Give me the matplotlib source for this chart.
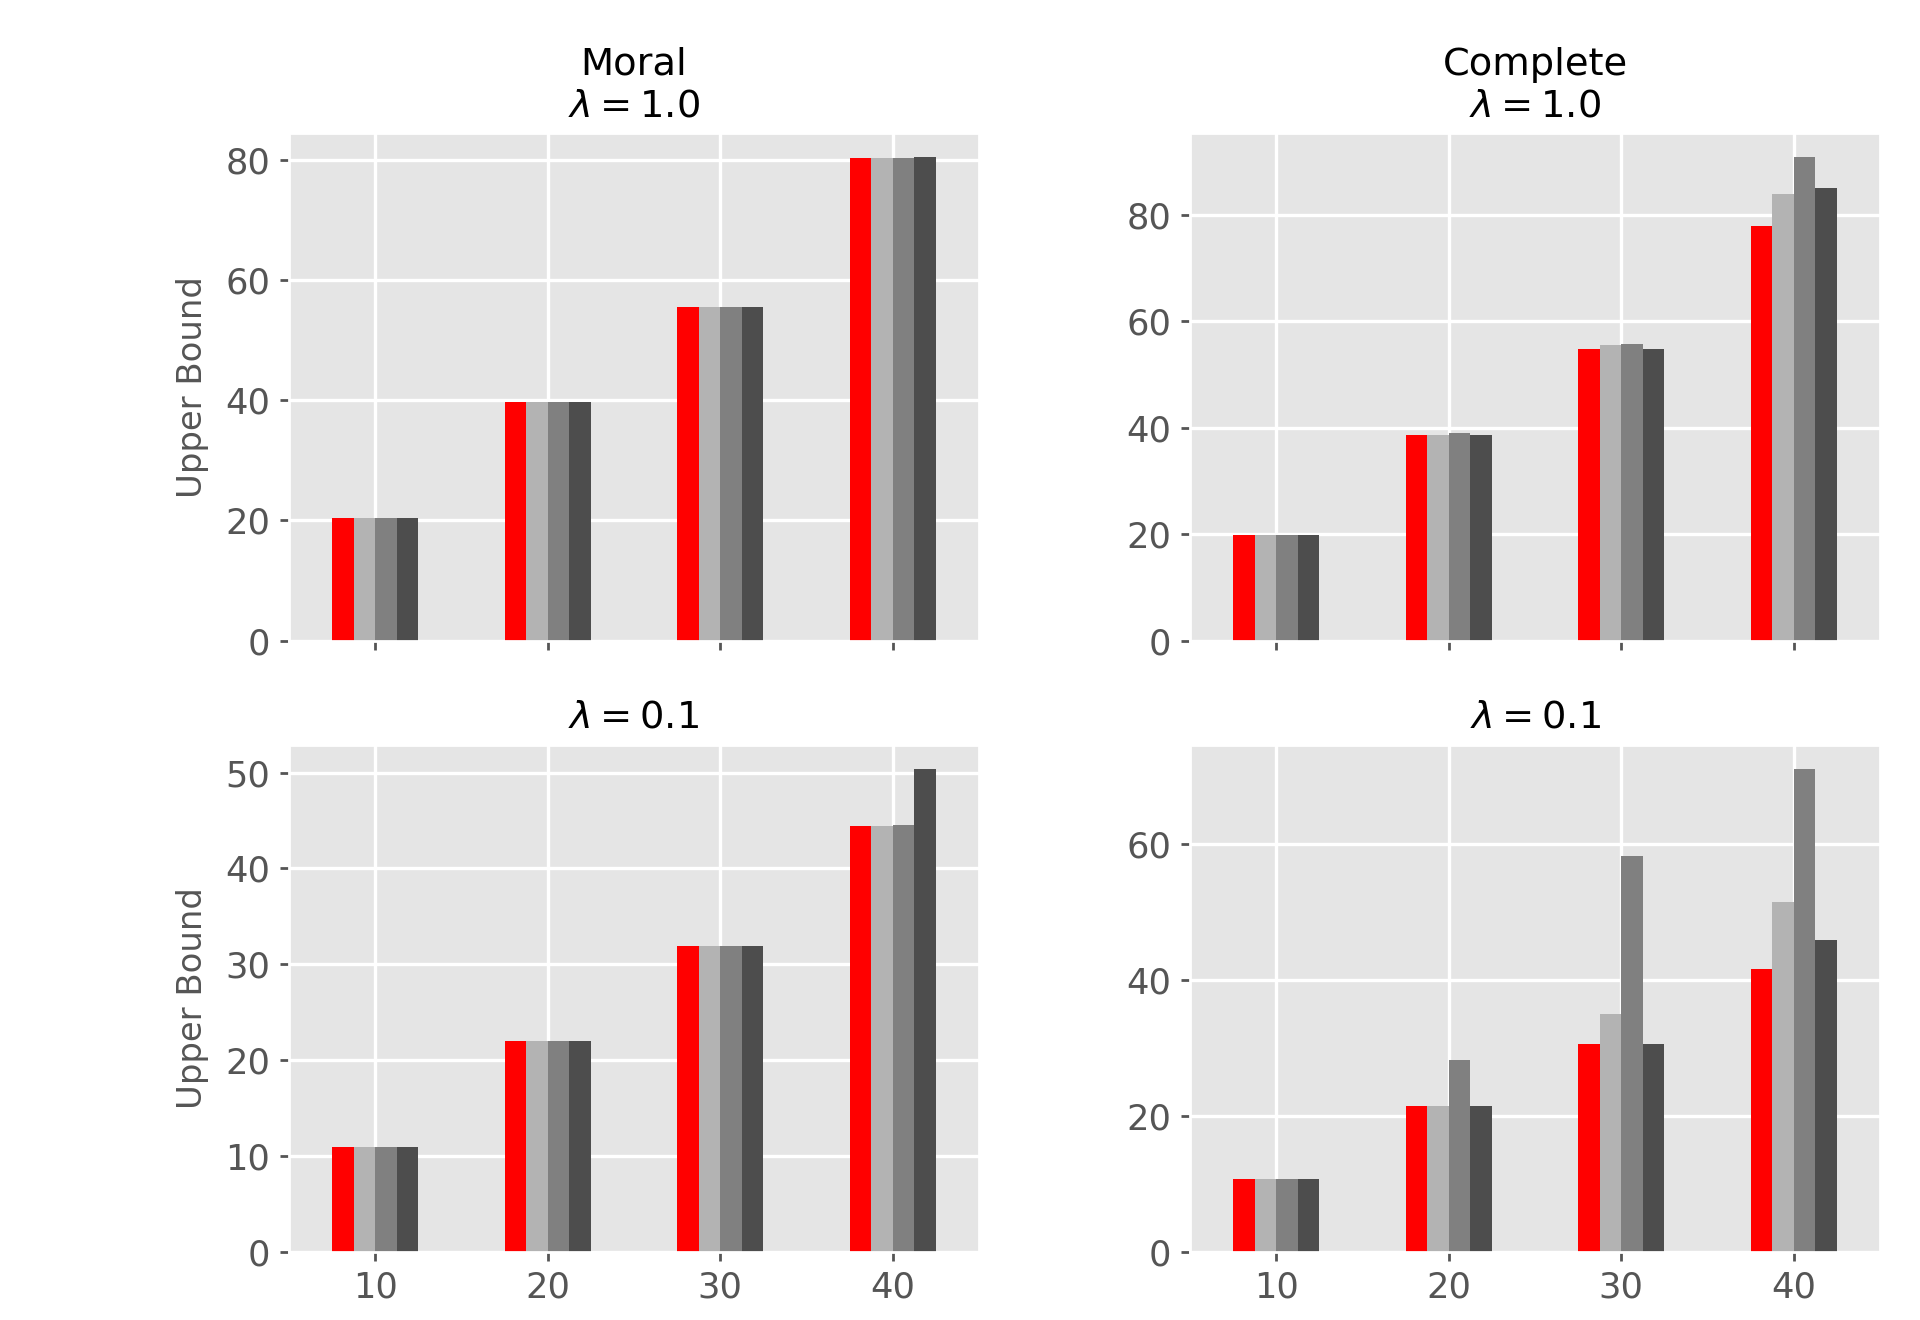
import numpy as np
import matplotlib
matplotlib.use("Agg")
import matplotlib.pyplot as plt

plt.style.use("ggplot")
plt.rcParams["font.family"] = ["DejaVu Sans"]
plt.rcParams["grid.linewidth"] = 1.2

categories = ["10", "20", "30", "40"]
series_colors = ["#ff0000", "0.7", "0.5", "0.3"]

# Moral, lambda = 1.0
moral_l10_s1 = [20.4, 39.6, 55.5, 80.2]
moral_l10_s2 = [20.4, 39.6, 55.5, 80.2]
moral_l10_s3 = [20.4, 39.6, 55.5, 80.2]
moral_l10_s4 = [20.4, 39.6, 55.5, 80.4]

# Moral, lambda = 0.1
moral_l01_s1 = [11.0, 22.0, 31.9, 44.4]
moral_l01_s2 = [11.0, 22.0, 31.9, 44.4]
moral_l01_s3 = [11.0, 22.0, 31.9, 44.5]
moral_l01_s4 = [11.0, 22.0, 31.9, 50.4]

# Complete, lambda = 1.0
complete_l10_s1 = [19.8, 38.7, 54.8, 77.9]
complete_l10_s2 = [19.8, 38.7, 55.5, 83.9]
complete_l10_s3 = [19.8, 38.9, 55.7, 90.8]
complete_l10_s4 = [19.8, 38.7, 54.8, 85.0]

# Complete, lambda = 0.1
complete_l01_s1 = [10.8, 21.4, 30.5, 41.6]
complete_l01_s2 = [10.8, 21.4, 34.9, 51.4]
complete_l01_s3 = [10.8, 28.2, 58.2, 71.0]
complete_l01_s4 = [10.8, 21.4, 30.5, 45.9]

panels = [
    (0, 0, "Moral\n$\\lambda = 1.0$", [moral_l10_s1, moral_l10_s2, moral_l10_s3, moral_l10_s4]),
    (0, 1, "Complete\n$\\lambda = 1.0$", [complete_l10_s1, complete_l10_s2, complete_l10_s3, complete_l10_s4]),
    (1, 0, "$\\lambda = 0.1$", [moral_l01_s1, moral_l01_s2, moral_l01_s3, moral_l01_s4]),
    (1, 1, "$\\lambda = 0.1$", [complete_l01_s1, complete_l01_s2, complete_l01_s3, complete_l01_s4]),
]

fig, axes = plt.subplots(2, 2, figsize=(9.6, 6.6), dpi=200)
fig.subplots_adjust(left=0.1505, right=0.9792, top=0.8992, bottom=0.0515,
                    wspace=0.306, hspace=0.205)

n_series = 4
bar_w = 0.5 / n_series
x = np.arange(len(categories))

for r, c, title, series in panels:
    ax = axes[r, c]
    for i, vals in enumerate(series):
        offs = -0.25 + bar_w * (i + 0.5)
        ax.bar(x + offs, vals, width=bar_w, color=series_colors[i], linewidth=0)
    ax.set_xlim(-0.5, 3.5)
    ax.set_xticks(x)
    if r == 1:
        ax.set_xticklabels(categories)
    else:
        ax.set_xticklabels([])
    ax.tick_params(axis="both", labelsize=12.7, colors="#555555", length=3.2, width=1.0)
    ax.set_title(title, fontsize=13.8, color="black", pad=6)
    if c == 0:
        ax.set_ylabel("Upper Bound", fontsize=12.2, color="#555555", labelpad=6)

fig.savefig("out.png", dpi=200)
